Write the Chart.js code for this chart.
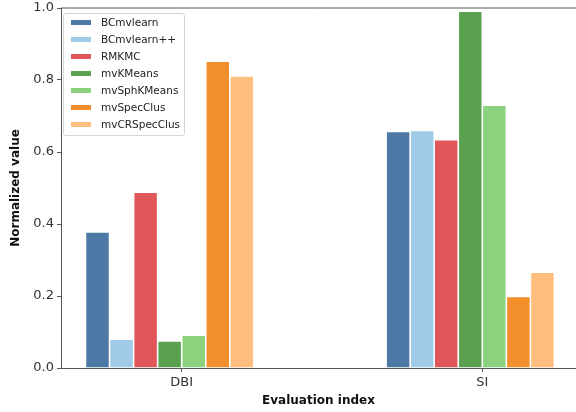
<!DOCTYPE html>
<html>
<head>
  <meta charset="utf-8" />
  <title>Normalized value by evaluation index</title>
  <script src="https://cdn.jsdelivr.net/npm/chart.js@4.4.0/dist/chart.umd.min.js"></script>
  <style>
    body { margin: 0; background: #fff; overflow: hidden; }
    #wrap { position: relative; width: 576px; height: 412px; }
    #legend {
      position: absolute; left: 63px; top: 13px; width: 120px;
      border: 1px solid #d6d6d6; border-radius: 3px; background: rgba(255,255,255,0.8);
      font-family: 'DejaVu Sans', sans-serif; font-size: 10.5px; color: #222;
      padding: 0 0 2px 0;
    }
    #legend .row { height: 17.05px; line-height: 17.05px; white-space: nowrap; position: relative; }
    #legend .sw { position: absolute; left: 7px; top: 6px; width: 20px; height: 5px; }
    #legend .lb { position: absolute; left: 37px; }
  </style>
</head>
<body>
<div id="wrap">
  <canvas id="chart" width="576" height="412"></canvas>
  <div id="legend"></div>
</div>
<script>
  var categories = ['DBI', 'SI'];
  var methods = ['BCmvlearn', 'BCmvlearn++', 'RMKMC', 'mvKMeans', 'mvSphKMeans', 'mvSpecClus', 'mvCRSpecClus'];
  var colors = ['#4e79a7', '#a0cbe8', '#e15759', '#59a14f', '#8cd17d', '#f28e2b', '#ffbe7d'];
  var dbiValues = [0.378, 0.080, 0.488, 0.075, 0.091, 0.852, 0.811];
  var siValues  = [0.657, 0.660, 0.634, 0.991, 0.730, 0.199, 0.266];
  var yTicks = [0.0, 0.2, 0.4, 0.6, 0.8, 1.0];

  var axisColor = '#555';
  var font = 'DejaVu Sans';

  var datasets = methods.map(function(name, i) {
    return {
      label: name,
      data: [dbiValues[i], siValues[i]].map(function(v, c) { return {x: c, y: v}; }),
      backgroundColor: colors[i],
      borderColor: '#ffffff',
      borderWidth: 0.8
    };
  });
  // empty slot so each group sits left of its tick like the original grouping
  datasets.push({ label: '', data: [{x: 0, y: null}, {x: 1, y: null}], backgroundColor: 'rgba(0,0,0,0)' });

  var topSpine = {
    id: 'topSpine',
    afterDraw: function(chart) {
      var a = chart.chartArea, ctx = chart.ctx;
      ctx.save();
      ctx.strokeStyle = axisColor;
      ctx.lineWidth = 1;
      ctx.beginPath();
      ctx.moveTo(a.left, a.top);
      ctx.lineTo(a.right, a.top);
      ctx.stroke();
      ctx.restore();
    }
  };

  new Chart(document.getElementById('chart'), {
    type: 'bar',
    data: { datasets: datasets },
    plugins: [topSpine],
    options: {
      responsive: false,
      animation: false,
      layout: { padding: { top: 8, right: 0, left: 0, bottom: 0 } },
      categoryPercentage: 0.64,
      barPercentage: 1.0,
      plugins: { legend: { display: false }, tooltip: { enabled: false } },
      scales: {
        x: {
          type: 'linear',
          offset: false,
          min: -0.4015,
          max: 1.3117,
          afterBuildTicks: function(scale) {
            scale.ticks = categories.map(function(c, i) { return {value: i}; });
          },
          afterFit: function(scale) { scale.height = 44; },
          ticks: {
            callback: function(v) { return categories[v]; },
            color: '#333',
            font: { family: font, size: 13 },
            padding: 3,
            maxRotation: 0
          },
          grid: { drawOnChartArea: false, drawTicks: true, tickLength: 4, color: axisColor, offset: false },
          border: { display: true, color: axisColor, width: 1 },
          title: {
            display: true, text: 'Evaluation index', color: '#111',
            font: { family: font, size: 12, weight: 'bold' },
            padding: { top: 4, bottom: 4 }
          }
        },
        y: {
          min: 0,
          max: 1,
          afterBuildTicks: function(scale) {
            scale.ticks = yTicks.map(function(v) { return {value: v}; });
          },
          afterFit: function(scale) {
            scale.width = 61;
            scale.paddingTop = 0;
          },
          ticks: {
            callback: function(v) { return v.toFixed(1); },
            color: '#333',
            font: { family: font, size: 13 },
            padding: 3
          },
          grid: { drawOnChartArea: false, drawTicks: true, tickLength: 4, color: axisColor },
          border: { display: true, color: axisColor, width: 1 },
          title: {
            display: true, text: 'Normalized value', color: '#111',
            font: { family: font, size: 12, weight: 'bold' },
            padding: { top: 9, bottom: 4 }
          }
        }
      }
    }
  });

  var legend = document.getElementById('legend');
  methods.forEach(function(name, i) {
    var row = document.createElement('div');
    row.className = 'row';
    row.innerHTML = '<span class="sw" style="background:' + colors[i] + '"></span><span class="lb">' + name + '</span>';
    legend.appendChild(row);
  });
</script>
</body>
</html>
